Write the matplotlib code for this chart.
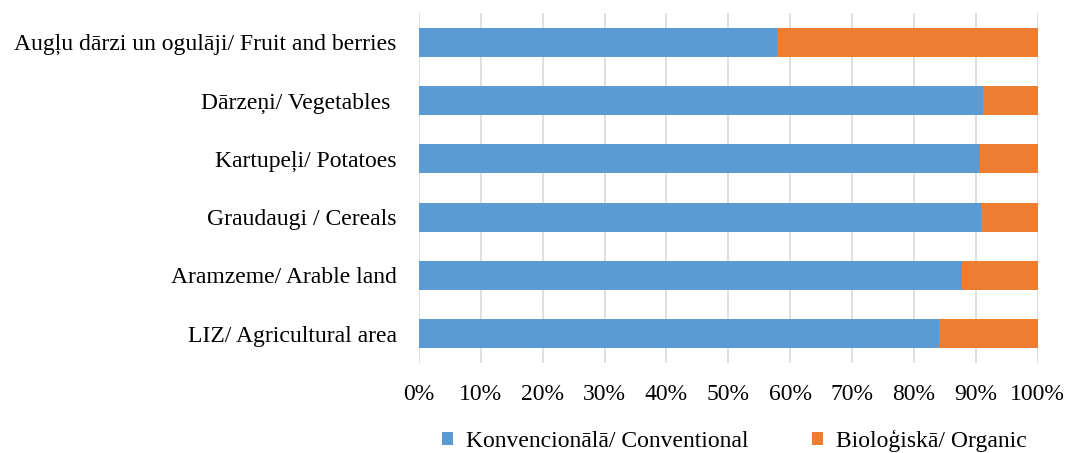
import matplotlib.pyplot as plt
import numpy as np

plt.rcParams['font.family'] = ['Liberation Serif', 'DejaVu Serif']

categories = ['LIZ/ Agricultural area', 'Aramzeme/ Arable land', 'Graudaugi / Cereals',
              'Kartupeļi/ Potatoes', 'Dārzeņi/ Vegetables ', 'Augļu dārzi un ogulāji/ Fruit and berries']
conventional = [84.1, 87.8, 90.9, 90.6, 91.2, 57.9]
organic = [100 - v for v in conventional]
series_names = ['Konvencionālā/ Conventional', 'Bioloģiskā/ Organic']

fig = plt.figure(figsize=(10.66, 4.53), dpi=100)
ax = fig.add_axes([0.393, 0.1987, 0.5805, 0.7726])

y = np.arange(len(categories))
ax.barh(y, conventional, height=0.5, color='#5b9bd5', label=series_names[0], zorder=3)
ax.barh(y, organic, left=conventional, height=0.5, color='#ed7d31', label=series_names[1], zorder=3)

ax.set_xlim(0, 100)
ax.set_ylim(-0.5, len(categories) - 0.5)
ax.set_yticks(y)
ax.set_yticklabels(categories, fontsize=17)
ax.set_xticks(np.arange(0, 101, 10))
ax.set_xticklabels([f'{v}%' for v in range(0, 101, 10)], fontsize=17)
ax.tick_params(axis='both', length=0)
ax.tick_params(axis='x', pad=15)
ax.tick_params(axis='y', pad=16)
ax.grid(axis='x', color='#d9d9d9', linewidth=1.2, zorder=0)
for s in ax.spines.values():
    s.set_visible(False)

fig.legend(loc='center', bbox_to_anchor=(0.689, 0.0276), ncol=2, frameon=False, fontsize=17,
           handlelength=0.47, handleheight=0.47, columnspacing=2.7, handletextpad=0.55)

fig.savefig('out.png', dpi=100)
